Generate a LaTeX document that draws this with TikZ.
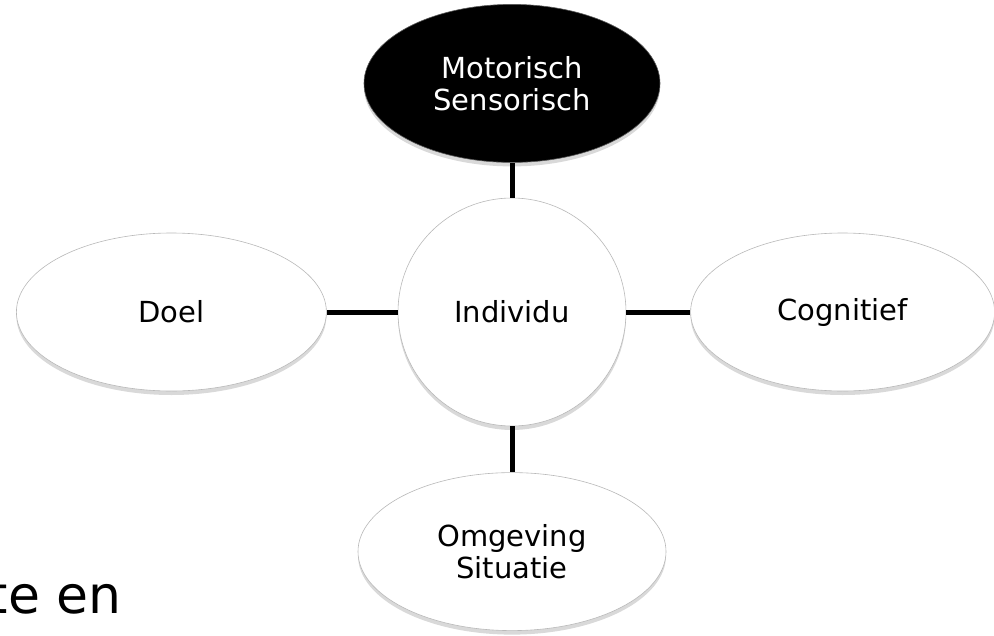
\documentclass[tikz,border=0pt]{standalone}
\usepackage{fontspec}
\setmainfont{DejaVu Sans}
\usetikzlibrary{positioning}
\usetikzlibrary{shapes.geometric}
\usetikzlibrary{shadows}
\tikzset{bubble/.style={ellipse, draw=gray!55, line width=0.6pt, fill=white,
minimum width=306pt, minimum height=158pt, inner sep=0pt, align=center,
font=\fontsize{29}{32}\selectfont,
drop shadow={shadow xshift=0pt, shadow yshift=-4pt, opacity=0.3, fill=gray}},
link/.style={line width=5pt}}

\begin{document}
\begin{tikzpicture}[x=1pt, y=-1pt, hub/.style={bubble, circle, minimum size=228pt},
dark/.style={bubble, fill=black, text=white, draw=gray!70!black}]

	\useasboundingbox (0,0) rectangle (994,635);
	\node[hub] (ind) at (512,312) {Individu};
	\node[dark, above=35pt of ind, minimum width=296pt] (mot) {Motorisch\\Sensorisch};
	\node[bubble, left=71pt of ind, minimum width=310pt] (doel) {Doel};
	\node[bubble, right=64pt of ind, minimum width=304pt] (cog) {Cognitief};
	\node[bubble, below=46pt of ind, minimum width=308pt] (omg) {Omgeving\\Situatie};
	\draw[link] (ind) -- (mot);
	\draw[link] (ind) -- (doel);
	\draw[link] (ind) -- (cog);
	\draw[link] (ind) -- (omg);
	\node[anchor=base east, inner sep=0pt, font=\fontsize{52}{60}\selectfont] (frag) at (122,613) {te en};
\end{tikzpicture}
\end{document}
